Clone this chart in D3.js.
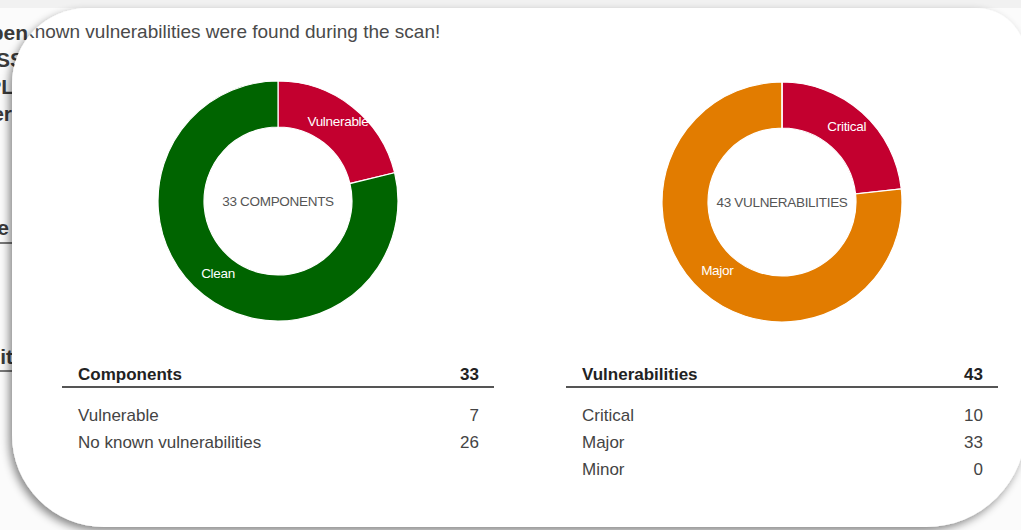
<!DOCTYPE html>
<html>
<head>
<meta charset="utf-8">
<script src="https://cdn.jsdelivr.net/npm/d3@7"></script>
<style>
  body { margin: 0; background: #f6f6f6; }
  svg { display: block; font-family: "Liberation Sans", Arial, sans-serif; }
</style>
</head>
<body>
<div id="chart"></div>
<script>
// donut + table data
var compLabels = ["Vulnerable", "Clean"];
var compValues = [7, 26];
var compColors = ["#c3002f", "#006400"];
var compRows = ["Vulnerable", "No known vulnerabilities"];

var vulnLabels = ["Critical", "Major", "Minor"];
var vulnValues = [10, 33, 0];
var vulnColors = ["#c3002f", "#e27c00", "#f0c000"];

var title = "Known vulnerabilities were found during the scan!";

var W = 1021, H = 530;
var svg = d3.select("#chart").append("svg").attr("width", W).attr("height", H);
var defs = svg.append("defs");

// card outline, different corner radii
var L = 12, T = 8, R = 1026, B = 527;
var rTL = 76, rTR = 50, rBR = 100, rBL = 92;
function corner(r, x, y) { return " A" + r + "," + r + " 0 0 1 " + x + "," + y; }
var cardPath = "M" + (L + rTL) + "," + T +
    " L" + (R - rTR) + "," + T + corner(rTR, R, T + rTR) +
    " L" + R + "," + (B - rBR) + corner(rBR, R - rBR, B) +
    " L" + (L + rBL) + "," + B + corner(rBL, L, B - rBL) +
    " L" + L + "," + (T + rTL) + corner(rTL, L + rTL, T) + " Z";

var f = defs.append("filter").attr("id", "shadow").attr("x", -0.1).attr("y", -0.1).attr("width", 1.2).attr("height", 1.2);
f.append("feDropShadow").attr("dx", -3).attr("dy", 4).attr("stdDeviation", 4)
  .attr("flood-color", "#000").attr("flood-opacity", 0.45);
defs.append("clipPath").attr("id", "cardClip").append("path").attr("d", cardPath);

// page behind the card
var bg = svg.append("g");
bg.append("rect").attr("width", W).attr("height", H).attr("fill", "#fbfbfb");
bg.append("rect").attr("width", W).attr("height", T).attr("fill", "#f1f1f1");
var bgText = [
  {t: "Open", x: 28, y: 40}, {t: "OSS", x: 24, y: 67},
  {t: "PL", x: 14, y: 94}, {t: "Ver", x: 12, y: 121},
  {t: "Name", x: 9, y: 235}, {t: "Visibilit", x: 13, y: 364}
];
bg.selectAll("text.bg").data(bgText).enter().append("text")
  .attr("x", function(d){ return d.x; }).attr("y", function(d){ return d.y; })
  .attr("text-anchor", "end").attr("font-size", 21).attr("font-weight", "bold")
  .attr("fill", "#3a3a3a").text(function(d){ return d.t; });
[242, 370].forEach(function(y){
  bg.append("rect").attr("x", 0).attr("y", y).attr("width", 20).attr("height", 2).attr("fill", "#777");
});

svg.append("path").attr("d", cardPath).attr("fill", "#fff").attr("filter", "url(#shadow)");

var card = svg.append("g").attr("clip-path", "url(#cardClip)");

card.append("text").attr("x", 22).attr("y", 38)
  .attr("font-size", 19).attr("fill", "#4a4a4a").text(title);

var outerR = 120, innerR = 74;
var pie = d3.pie().sort(null).value(function(d){ return d.v; });
var arc = d3.arc().innerRadius(innerR).outerRadius(outerR);
var labelArc = d3.arc().innerRadius((innerR + outerR) / 2).outerRadius((innerR + outerR) / 2);

function donut(cx, cy, labels, values, colors, centerText) {
  var data = labels.map(function(l, i){ return {label: l, v: values[i], color: colors[i]}; });
  var g = card.append("g").attr("transform", "translate(" + cx + "," + cy + ")");
  var arcs = pie(data);
  g.selectAll("path").data(arcs).enter().append("path")
    .attr("d", arc).attr("fill", function(d){ return d.data.color; })
    .attr("stroke", "#fff").attr("stroke-width", 1.2);
  g.selectAll("text.lbl").data(arcs.filter(function(d){ return d.data.v > 0; })).enter().append("text")
    .attr("class", "lbl")
    .attr("transform", function(d){ return "translate(" + labelArc.centroid(d) + ")"; })
    .attr("text-anchor", "middle").attr("dy", "0.08em")
    .attr("font-size", 13.5).attr("letter-spacing", -0.3).attr("fill", "#fff")
    .text(function(d){ return d.data.label; });
  g.append("text").attr("text-anchor", "middle").attr("dy", "0.35em")
    .attr("font-size", 13.5).attr("letter-spacing", -0.3).attr("fill", "#555")
    .text(centerText);
}

donut(278, 201, compLabels, compValues, compColors, d3.sum(compValues) + " COMPONENTS");
donut(782, 202, vulnLabels, vulnValues, vulnColors, d3.sum(vulnValues) + " VULNERABILITIES");

function table(x0, x1, head, rows, values) {
  var g = card.append("g");
  var y = d3.scalePoint().domain(d3.range(rows.length)).range([421, 421 + 27 * (rows.length - 1)]);
  g.append("text").attr("x", x0 + 16).attr("y", 380).attr("font-size", 17)
    .attr("font-weight", "bold").attr("fill", "#222").text(head);
  g.append("text").attr("x", x1 - 15).attr("y", 380).attr("font-size", 17)
    .attr("font-weight", "bold").attr("fill", "#222").attr("text-anchor", "end").text(d3.sum(values));
  g.append("rect").attr("x", x0).attr("y", 386).attr("width", x1 - x0).attr("height", 2).attr("fill", "#555");
  var r = g.selectAll("g.row").data(rows).enter().append("g");
  r.append("text").attr("x", x0 + 16).attr("y", function(d, i){ return y(i); })
    .attr("font-size", 17).attr("fill", "#444").text(function(d){ return d; });
  r.append("text").attr("x", x1 - 15).attr("y", function(d, i){ return y(i); })
    .attr("font-size", 17).attr("fill", "#444").attr("text-anchor", "end")
    .text(function(d, i){ return values[i]; });
}

table(62, 494, "Components", compRows, compValues);
table(566, 998, "Vulnerabilities", vulnLabels, vulnValues);
</script>
</body>
</html>
